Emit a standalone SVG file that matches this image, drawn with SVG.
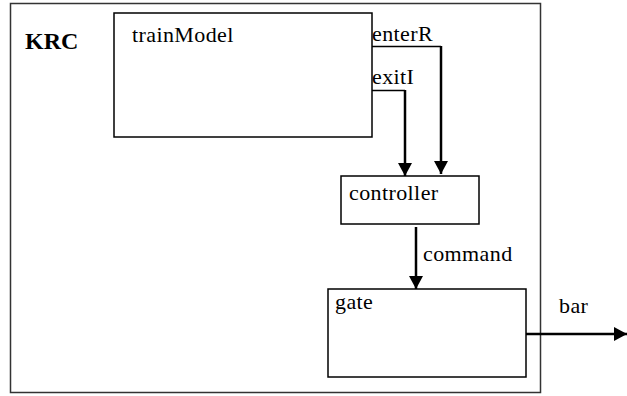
<svg xmlns="http://www.w3.org/2000/svg" width="627" height="396" viewBox="0 0 627 396">
  <style>
    .box { fill: #ffffff; stroke: #000000; stroke-width: 1.5; }
    .frame { fill: #ffffff; stroke: #333333; stroke-width: 1.5; }
    .wire { fill: none; stroke: #000000; stroke-width: 1.5; }
    .flow { fill: none; stroke: #000000; stroke-width: 2.5; marker-end: url(#head); }
  </style>
  <defs>
    <marker id="head" viewBox="0 0 13 14" refX="13" refY="7" markerWidth="13" markerHeight="14" markerUnits="userSpaceOnUse" orient="auto">
      <path d="M0,0 L13,7 L0,14 Z" fill="#000000"/>
    </marker>
  </defs>

  <g font-family="'Liberation Serif', 'Times New Roman', serif" font-size="22" letter-spacing="0.4" fill="#000000">
    <!-- enclosing system -->
    <g id="KRC">
      <rect class="frame" x="10.5" y="3.5" width="530" height="389"/>
      <text x="25" y="49" font-weight="bold" font-size="24" letter-spacing="0">KRC</text>
    </g>

    <g id="trainModel">
      <rect class="box" x="114" y="13" width="258" height="124"/>
      <text x="132" y="41.5">trainModel</text>
    </g>

    <g id="controller">
      <rect class="box" x="341" y="176" width="138" height="48"/>
      <text x="349" y="200">controller</text>
    </g>

    <g id="gate">
      <rect class="box" x="328" y="289" width="198" height="88"/>
      <text x="335" y="309">gate</text>
    </g>

    <!-- connectors -->
    <g id="connectors">
      <path class="wire" d="M372,46.5 H441"/>
      <path class="flow" d="M441,46 V174"/>
      <text x="372" y="40.5">enterR</text>

      <path class="wire" d="M372,90.5 H405"/>
      <path class="flow" d="M405,90 V176"/>
      <text x="372" y="84">exitI</text>

      <path class="flow" d="M416,227 V289"/>
      <text x="423" y="261">command</text>

      <path class="flow" d="M526,334 H627"/>
      <text x="559" y="313">bar</text>
    </g>
  </g>
</svg>
